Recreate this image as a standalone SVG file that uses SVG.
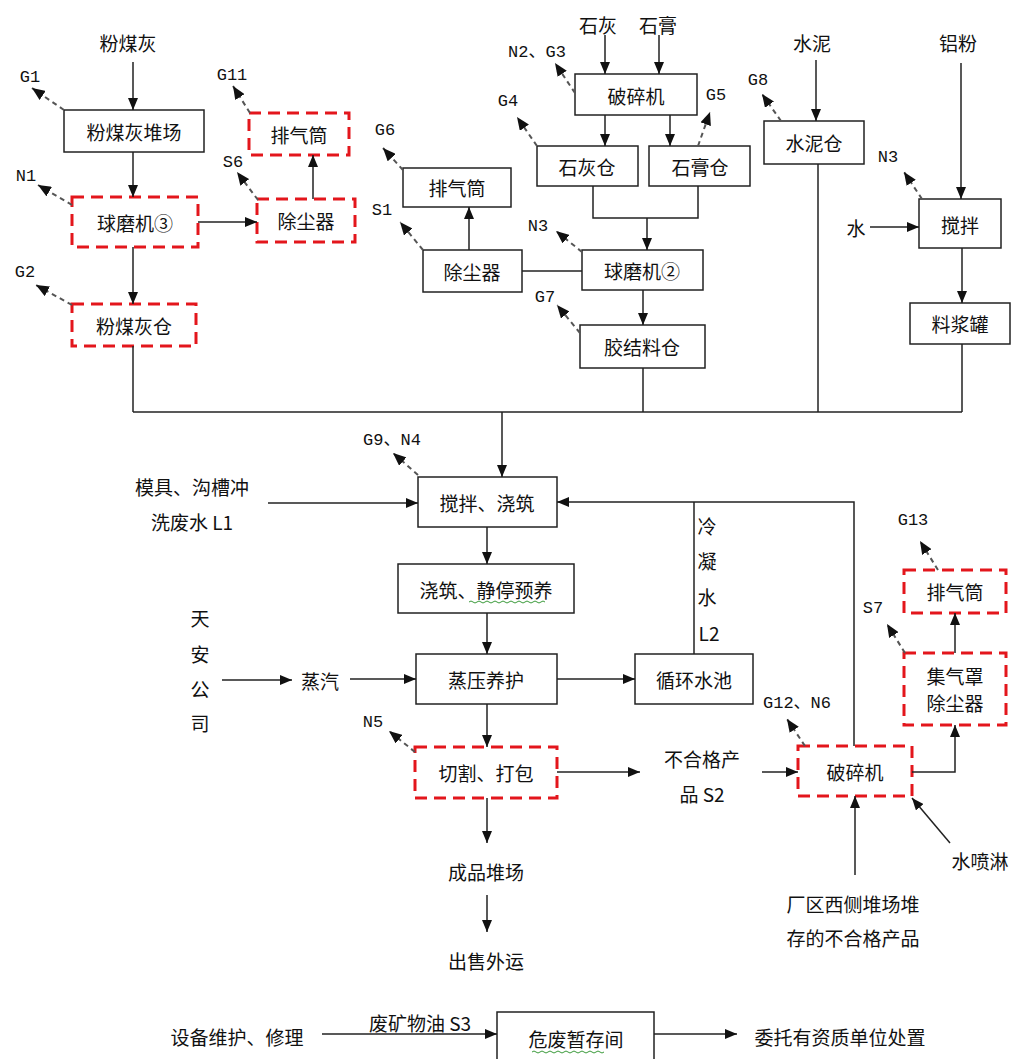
<svg xmlns="http://www.w3.org/2000/svg" width="1011" height="1059" viewBox="0 0 1011 1059">
<defs>
<marker id="ar" viewBox="0 0 12 10" refX="12" refY="5" markerWidth="12" markerHeight="10" markerUnits="userSpaceOnUse" orient="auto"><path d="M0,0 L12,5 L0,10 z" fill="#111"/></marker>
<marker id="ad" viewBox="0 0 13 11" refX="13" refY="5.5" markerWidth="13" markerHeight="11" markerUnits="userSpaceOnUse" orient="auto"><path d="M0,0 L13,5.5 L0,11 z" fill="#111"/></marker>
</defs>
<style>
.b{fill:#fff;stroke:#222;stroke-width:1.5}
.r{fill:#fff;stroke:#e3161c;stroke-width:3;stroke-dasharray:12 7}
.t{font-family:"Noto Sans CJK SC","Liberation Sans",sans-serif;font-size:19px;fill:#111;text-anchor:middle;dominant-baseline:central}
.m{font-family:"Liberation Mono","Noto Sans CJK SC",monospace;font-size:17px;fill:#111;text-anchor:middle;dominant-baseline:central}
.c path,.c line,.c polyline{fill:none;stroke:#222;stroke-width:1.5}
.a{marker-end:url(#ar)}
.d{stroke:#555 !important;stroke-width:2 !important;stroke-dasharray:5 4;marker-end:url(#ad)}
.w{fill:none;stroke:#3a9a3a;stroke-width:1}
</style>
<rect width="1011" height="1059" fill="#fff"/>

<g id="nodes">
<g id="n-fmh-dc"><rect class="b" x="64" y="110" width="140" height="42"/><text class="t" x="134" y="131">粉煤灰堆场</text></g>
<g id="n-qmj3"><rect class="r" x="72" y="197" width="126" height="50"/><text class="t" x="135" y="222">球磨机③</text></g>
<g id="n-fmhc"><rect class="r" x="72" y="304" width="124" height="42"/><text class="t" x="134" y="325">粉煤灰仓</text></g>
<g id="n-ccq6"><rect class="r" x="257" y="199" width="98" height="43"/><text class="t" x="306" y="220">除尘器</text></g>
<g id="n-pqt11"><rect class="r" x="249" y="113" width="100" height="42"/><text class="t" x="299" y="134">排气筒</text></g>
<g id="n-psj1"><rect class="b" x="575" y="74" width="122" height="41"/><text class="t" x="636" y="95">破碎机</text></g>
<g id="n-shc"><rect class="b" x="537" y="146" width="101" height="40"/><text class="t" x="587" y="166">石灰仓</text></g>
<g id="n-sgc"><rect class="b" x="649" y="146" width="101" height="40"/><text class="t" x="700" y="166">石膏仓</text></g>
<g id="n-pqt6"><rect class="b" x="403" y="168" width="108" height="39"/><text class="t" x="457" y="187">排气筒</text></g>
<g id="n-ccq1"><rect class="b" x="423" y="250" width="99" height="42"/><text class="t" x="472" y="271">除尘器</text></g>
<g id="n-qmj2"><rect class="b" x="582" y="250" width="121" height="40"/><text class="t" x="642" y="270">球磨机②</text></g>
<g id="n-jjlc"><rect class="b" x="580" y="325" width="125" height="43"/><text class="t" x="642" y="346">胶结料仓</text></g>
<g id="n-snc"><rect class="b" x="764" y="121" width="100" height="43"/><text class="t" x="814" y="142">水泥仓</text></g>
<g id="n-jb"><rect class="b" x="919" y="199" width="82" height="49"/><text class="t" x="960" y="224">搅拌</text></g>
<g id="n-ljg"><rect class="b" x="910" y="303" width="100" height="41"/><text class="t" x="960" y="323">料浆罐</text></g>
<g id="n-jbjz"><rect class="b" x="418" y="477" width="139" height="50"/><text class="t" x="487" y="502">搅拌、浇筑</text></g>
<g id="n-jzjt"><rect class="b" x="398" y="564" width="176" height="49"/><text class="t" x="486" y="589">浇筑、静停预养</text><path class="w" d="M469,602 q2,-2 4,0 t4,0 t4,0 t4,0 t4,0 t4,0 t4,0 t4,0 t4,0 t4,0 t4,0 t4,0 t4,0 t4,0 t4,0 t4,0 t4,0 t4,0 t4,0"/></g>
<g id="n-zyyh"><rect class="b" x="416" y="654" width="141" height="50"/><text class="t" x="486" y="679">蒸压养护</text></g>
<g id="n-xhsc"><rect class="b" x="635" y="654" width="118" height="50"/><text class="t" x="694" y="679">循环水池</text></g>
<g id="n-qgdb"><rect class="r" x="415" y="747" width="142" height="51"/><text class="t" x="486" y="772">切割、打包</text></g>
<g id="n-psj2"><rect class="r" x="798" y="746" width="114" height="50"/><text class="t" x="855" y="771">破碎机</text></g>
<g id="n-jqz"><rect class="r" x="904" y="653" width="102" height="72"/><text class="t" x="955" y="675">集气罩</text><text class="t" x="955" y="702">除尘器</text></g>
<g id="n-pqt13"><rect class="r" x="904" y="570" width="102" height="43"/><text class="t" x="955" y="591">排气筒</text></g>
<g id="n-wfzc"><rect class="b" x="497" y="1012" width="157" height="60"/><text class="t" x="576" y="1038">危废暂存间</text><path class="w" d="M532,1052 q2,-2 4,0 t4,0 t4,0 t4,0 t4,0 t4,0 t4,0 t4,0 t4,0 t4,0 t4,0 t4,0 t4,0 t4,0 t4,0 t4,0 t4,0 t4,0"/></g>
</g>

<g id="texts">
<text class="t" x="128" y="42">粉煤灰</text>
<text class="t" x="598" y="24">石灰</text>
<text class="t" x="658" y="24">石膏</text>
<text class="t" x="812" y="42">水泥</text>
<text class="t" x="958" y="42">铝粉</text>
<text class="t" x="856" y="227">水</text>
<text class="t" x="192" y="486">模具、沟槽冲</text>
<text class="t" x="192" y="521">洗废水 L1</text>
<text class="t" x="200" y="617">天</text>
<text class="t" x="200" y="653">安</text>
<text class="t" x="200" y="688">公</text>
<text class="t" x="200" y="722">司</text>
<text class="t" x="320" y="680">蒸汽</text>
<text class="t" x="707" y="525">冷</text>
<text class="t" x="707" y="560">凝</text>
<text class="t" x="707" y="596">水</text>
<text class="t" x="709" y="632">L2</text>
<text class="t" x="702" y="758">不合格产</text>
<text class="t" x="702" y="793">品 S2</text>
<text class="t" x="853" y="903">厂区西侧堆场堆</text>
<text class="t" x="853" y="937">存的不合格产品</text>
<text class="t" x="980" y="860">水喷淋</text>
<text class="t" x="486" y="871">成品堆场</text>
<text class="t" x="486" y="960">出售外运</text>
<text class="t" x="237" y="1036">设备维护、修理</text>
<text class="t" x="420" y="1022">废矿物油 S3</text>
<text class="t" x="840" y="1036">委托有资质单位处置</text>
<text class="m" x="30" y="77">G1</text>
<text class="m" x="26" y="176">N1</text>
<text class="m" x="25" y="272">G2</text>
<text class="m" x="232" y="75">G11</text>
<text class="m" x="233" y="162">S6</text>
<text class="m" x="537" y="52">N2、G3</text>
<text class="m" x="508" y="101">G4</text>
<text class="m" x="716" y="95">G5</text>
<text class="m" x="385" y="130">G6</text>
<text class="m" x="382" y="210">S1</text>
<text class="m" x="538" y="226">N3</text>
<text class="m" x="545" y="297">G7</text>
<text class="m" x="758" y="80">G8</text>
<text class="m" x="888" y="157">N3</text>
<text class="m" x="392" y="440">G9、N4</text>
<text class="m" x="373" y="722">N5</text>
<text class="m" x="797" y="703">G12、N6</text>
<text class="m" x="913" y="520">G13</text>
<text class="m" x="873" y="608">S7</text>
</g>

<g id="connectors" class="c">
<line class="a" x1="133" y1="62" x2="133" y2="110"/>
<line class="a" x1="133" y1="152" x2="133" y2="197"/>
<line class="a" x1="198" y1="222" x2="257" y2="222"/>
<line class="a" x1="313" y1="199" x2="313" y2="155"/>
<line class="a" x1="133" y1="247" x2="133" y2="304"/>
<line class="a" x1="605" y1="35" x2="605" y2="74"/>
<line class="a" x1="659" y1="35" x2="659" y2="74"/>
<line class="a" x1="605" y1="115" x2="605" y2="146"/>
<line class="a" x1="670" y1="115" x2="670" y2="146"/>
<polyline points="593,186 593,218 698,218 698,186"/>
<line class="a" x1="647" y1="218" x2="647" y2="250"/>
<line x1="522" y1="271" x2="582" y2="271"/>
<line class="a" x1="469" y1="250" x2="469" y2="207"/>
<line class="a" x1="643" y1="290" x2="643" y2="325"/>
<line class="a" x1="816" y1="60" x2="816" y2="121"/>
<line class="a" x1="961" y1="63" x2="961" y2="199"/>
<line class="a" x1="870" y1="227" x2="919" y2="227"/>
<line class="a" x1="962" y1="248" x2="962" y2="303"/>
<line x1="133" y1="346" x2="133" y2="412"/>
<line x1="643" y1="368" x2="643" y2="412"/>
<line x1="818" y1="164" x2="818" y2="412"/>
<line x1="962" y1="344" x2="962" y2="412"/>
<line x1="133" y1="412" x2="962" y2="412"/>
<line class="a" x1="502" y1="412" x2="502" y2="477"/>
<line class="a" x1="268" y1="503" x2="418" y2="503"/>
<line class="a" x1="487" y1="527" x2="487" y2="564"/>
<line class="a" x1="487" y1="613" x2="487" y2="654"/>
<line class="a" x1="222" y1="680" x2="292" y2="680"/>
<line class="a" x1="350" y1="679" x2="416" y2="679"/>
<line class="a" x1="557" y1="679" x2="635" y2="679"/>
<line x1="694" y1="654" x2="694" y2="502"/>
<polyline class="a" points="854,746 854,502 557,502"/>
<line class="a" x1="487" y1="704" x2="487" y2="747"/>
<line class="a" x1="557" y1="772" x2="640" y2="772"/>
<line class="a" x1="762" y1="772" x2="798" y2="772"/>
<polyline class="a" points="912,772 955,772 955,725"/>
<line class="a" x1="955" y1="653" x2="955" y2="613"/>
<line class="a" x1="855" y1="875" x2="855" y2="796"/>
<line class="a" x1="950" y1="843" x2="912" y2="798"/>
<line class="a" x1="487" y1="798" x2="487" y2="843"/>
<line class="a" x1="487" y1="895" x2="487" y2="932"/>
<line class="a" x1="322" y1="1034" x2="497" y2="1034"/>
<line class="a" x1="654" y1="1034" x2="737" y2="1034"/>
<line class="d" x1="64" y1="110" x2="32" y2="88"/>
<line class="d" x1="72" y1="205" x2="38" y2="185"/>
<line class="d" x1="72" y1="305" x2="36" y2="285"/>
<line class="d" x1="250" y1="113" x2="233" y2="86"/>
<line class="d" x1="258" y1="200" x2="237" y2="172"/>
<line class="d" x1="575" y1="93" x2="555" y2="63"/>
<line class="d" x1="537" y1="146" x2="517" y2="117"/>
<line class="d" x1="698" y1="146" x2="710" y2="112"/>
<line class="d" x1="403" y1="170" x2="383" y2="148"/>
<line class="d" x1="423" y1="250" x2="400" y2="222"/>
<line class="d" x1="582" y1="252" x2="556" y2="231"/>
<line class="d" x1="580" y1="333" x2="557" y2="305"/>
<line class="d" x1="781" y1="121" x2="762" y2="94"/>
<line class="d" x1="922" y1="199" x2="904" y2="172"/>
<line class="d" x1="418" y1="475" x2="393" y2="453"/>
<line class="d" x1="415" y1="752" x2="389" y2="731"/>
<line class="d" x1="805" y1="746" x2="787" y2="719"/>
<line class="d" x1="938" y1="570" x2="920" y2="541"/>
<line class="d" x1="905" y1="653" x2="887" y2="624"/>
</g>
</svg>
